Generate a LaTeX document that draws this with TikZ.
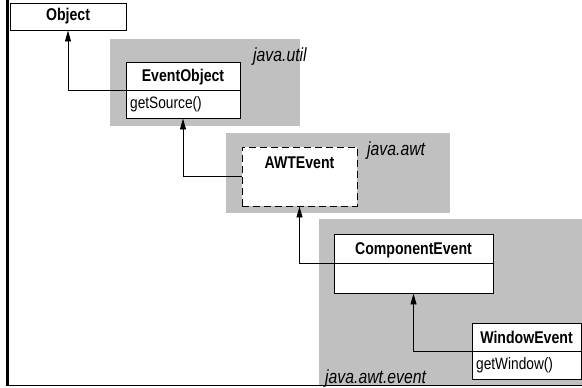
\documentclass[tikz,border=0pt]{standalone}
\usepackage{fontspec}
\setmainfont{Liberation Sans}[FakeStretch=0.83]
\usetikzlibrary{arrows.meta}
\definecolor{pkg}{RGB}{192,192,192}
\begin{document}
\begin{tikzpicture}[x=1pt,y=-1pt,
  pkgbox/.style={fill=pkg, draw=none},
  cls/.style={draw=black, fill=white, line width=0.9pt, inner sep=0pt},
  clsname/.style={font=\fontsize{17}{20}\selectfont\bfseries, inner sep=0pt},
  meth/.style={font=\fontsize{16.5}{19}\selectfont, inner sep=0pt, anchor=west},
  pkglabel/.style={font=\fontsize{19}{22}\selectfont\itshape, inner sep=0pt, anchor=base west},
  inh/.style={draw=black, line width=0.9pt, -{Triangle[length=11pt,width=6pt]}}
]
\useasboundingbox (0,0) rectangle (582,388);
\clip (0,0) rectangle (582,388);

% packages
\fill[pkgbox] (110,39) rectangle (300,126);
\fill[pkgbox] (226,133) rectangle (450,213);
\fill[pkgbox] (319,219) rectangle (582,385);
\node[pkglabel] (lutil) at (253,61) {java.util};
\node[pkglabel] (lawt) at (367,155) {java.awt};
\node[pkglabel] (levent) at (325,383.5) {java.awt.event};

% classes
\node[cls, minimum width=116pt, minimum height=27pt] (obj) at (68,16.5) {};
\node[clsname] (objn) at (obj.center) {Object};

\node[cls, minimum width=114pt, minimum height=56pt] (eo) at (183,90) {};
\draw[line width=0.9pt] (eo.west) -- (eo.east);
\node[clsname] (eon) at (183,77) {EventObject};
\node[meth] (eom) at (130,104) {getSource()};

\node[cls, dashed, dash pattern=on 7pt off 4pt, minimum width=115pt, minimum height=59pt] (awt) at (299.5,176.5) {};
\node[clsname] (awtn) at (299.5,163) {AWTEvent};

\node[cls, minimum width=159pt, minimum height=59pt] (ce) at (413.5,263.5) {};
\draw[line width=0.9pt] (ce.west) -- (ce.east);
\node[clsname] (cen) at (413.5,250) {ComponentEvent};

\node[cls, minimum width=109pt, minimum height=56pt] (we) at (526.5,351) {};
\draw[line width=0.9pt] (we.west) -- (we.east);
\node[clsname] (wen) at (526.5,337) {WindowEvent};
\node[meth] (wem) at (476,365) {getWindow()};

% inheritance connectors
\draw[inh] (eo.west) -| (obj.south);
\draw[inh] (awt.west) -| (eo.south);
\draw[inh] (ce.west) -| (awt.south);
\draw[inh] (we.west) -| (ce.south);

% frame lines
\draw[line width=3pt] (7.5,0) -- (7.5,386);
\draw[line width=1.8pt] (6,385.5) -- (582,385.5);
\end{tikzpicture}
\end{document}
